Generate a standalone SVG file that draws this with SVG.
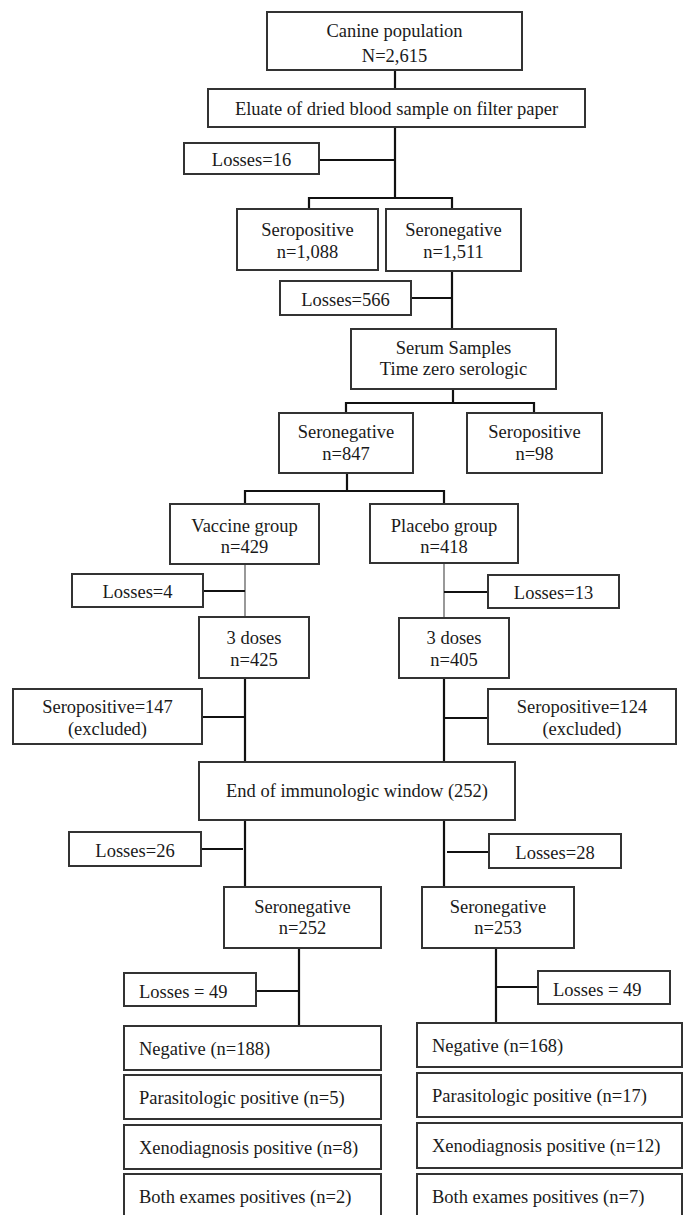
<svg xmlns="http://www.w3.org/2000/svg" width="688" height="1215" viewBox="0 0 688 1215">
<style>
.b{fill:#fff;stroke:#333;stroke-width:2}
.t{font-family:"Liberation Serif","Times New Roman",serif;font-size:18.5px;fill:#1a1a1a;text-anchor:middle}
.l{text-anchor:start}
.c{stroke:#111;stroke-width:2.2;fill:none}
.th{stroke:#555;stroke-width:1.2;fill:none}
</style>
<rect width="688" height="1215" fill="#fff"/>
<g id="connectors">
<path class="c" d="M395,70V89M395,127V198M319,160H395M309,209V198H452V209M452,271V329M411,298H452M453,389V403M346,413V403H534V413M347,473V491M245,504V491H444V504"/>
<path class="th" d="M245,564V617M444,563V618"/>
<path class="c" d="M203,591H245M444,592H488M245,678V762M444,678V762M202,717H245M444,718H488M245,820V887M444,820V887M201,849H243M447,852H489M299,948V1026M256,991H299M496,948V1023M496,987H538"/>
</g>
<g id="canine"><rect class="b" x="267" y="12" width="255" height="58"/><text class="t" x="394.5" y="37">Canine population</text><text class="t" x="394.5" y="62">N=2,615</text></g>
<g id="eluate"><rect class="b" x="208" y="89" width="377" height="38"/><text class="t" x="396.5" y="115">Eluate of dried blood sample on filter paper</text></g>
<g id="losses16"><rect class="b" x="184" y="143" width="135" height="31"/><text class="t" x="251.5" y="166">Losses=16</text></g>
<g id="seropos1088"><rect class="b" x="237" y="209" width="141" height="61"/><text class="t" x="307.5" y="236">Seropositive</text><text class="t" x="307.5" y="258">n=1,088</text></g>
<g id="seroneg1511"><rect class="b" x="386" y="209" width="135" height="62"/><text class="t" x="453.5" y="236">Seronegative</text><text class="t" x="453.5" y="258">n=1,511</text></g>
<g id="losses566"><rect class="b" x="280" y="281" width="131" height="34"/><text class="t" x="345.5" y="306">Losses=566</text></g>
<g id="serum"><rect class="b" x="351" y="329" width="205" height="60"/><text class="t" x="453.5" y="354">Serum Samples</text><text class="t" x="453.5" y="375">Time zero serologic</text></g>
<g id="seroneg847"><rect class="b" x="279" y="413" width="134" height="60"/><text class="t" x="346" y="438">Seronegative</text><text class="t" x="346" y="460">n=847</text></g>
<g id="seropos98"><rect class="b" x="467" y="413" width="135" height="60"/><text class="t" x="534.5" y="438">Seropositive</text><text class="t" x="534.5" y="460">n=98</text></g>
<g id="vaccine"><rect class="b" x="170" y="504" width="149" height="60"/><text class="t" x="244.5" y="532">Vaccine group</text><text class="t" x="244.5" y="553">n=429</text></g>
<g id="placebo"><rect class="b" x="370" y="504" width="148" height="59"/><text class="t" x="444" y="532">Placebo group</text><text class="t" x="444" y="553">n=418</text></g>
<g id="losses4"><rect class="b" x="72" y="574" width="131" height="33"/><text class="t" x="137.5" y="598">Losses=4</text></g>
<g id="losses13"><rect class="b" x="488" y="575" width="131" height="33"/><text class="t" x="553.5" y="599">Losses=13</text></g>
<g id="doses425"><rect class="b" x="199" y="617" width="110" height="61"/><text class="t" x="254" y="644">3 doses</text><text class="t" x="254" y="666">n=425</text></g>
<g id="doses405"><rect class="b" x="399" y="618" width="110" height="60"/><text class="t" x="454" y="644">3 doses</text><text class="t" x="454" y="666">n=405</text></g>
<g id="seropos147"><rect class="b" x="13" y="689" width="189" height="55"/><text class="t" x="107.5" y="713">Seropositive=147</text><text class="t" x="107.5" y="735">(excluded)</text></g>
<g id="seropos124"><rect class="b" x="488" y="689" width="188" height="55"/><text class="t" x="582" y="713">Seropositive=124</text><text class="t" x="582" y="735">(excluded)</text></g>
<g id="endwindow"><rect class="b" x="199" y="762" width="316" height="58"/><text class="t" x="357" y="797">End of immunologic window (252)</text></g>
<g id="losses26"><rect class="b" x="69" y="832" width="132" height="34"/><text class="t" x="135" y="857">Losses=26</text></g>
<g id="losses28"><rect class="b" x="489" y="834" width="132" height="34"/><text class="t" x="555" y="859">Losses=28</text></g>
<g id="seroneg252"><rect class="b" x="224" y="887" width="157" height="61"/><text class="t" x="302.5" y="913">Seronegative</text><text class="t" x="302.5" y="934">n=252</text></g>
<g id="seroneg253"><rect class="b" x="422" y="887" width="152" height="61"/><text class="t" x="498" y="913">Seronegative</text><text class="t" x="498" y="934">n=253</text></g>
<g id="losses49L"><rect class="b" x="124" y="973" width="132" height="33"/><text class="t l" x="139" y="998">Losses = 49</text></g>
<g id="losses49R"><rect class="b" x="538" y="971" width="132" height="33"/><text class="t l" x="553" y="996">Losses = 49</text></g>
<g id="negL"><rect class="b" x="124" y="1026" width="257" height="44"/><text class="t l" x="139" y="1055">Negative (n=188)</text></g>
<g id="paraL"><rect class="b" x="124" y="1075" width="257" height="44"/><text class="t l" x="139" y="1104">Parasitologic positive (n=5)</text></g>
<g id="xenoL"><rect class="b" x="124" y="1125" width="257" height="44"/><text class="t l" x="139" y="1154">Xenodiagnosis positive (n=8)</text></g>
<g id="bothL"><rect class="b" x="124" y="1174" width="257" height="56"/><text class="t l" x="139" y="1203">Both exames positives (n=2)</text></g>
<g id="negR"><rect class="b" x="417" y="1023" width="265" height="44"/><text class="t l" x="432" y="1052">Negative (n=168)</text></g>
<g id="paraR"><rect class="b" x="417" y="1073" width="265" height="44"/><text class="t l" x="432" y="1102">Parasitologic positive (n=17)</text></g>
<g id="xenoR"><rect class="b" x="417" y="1123" width="265" height="45"/><text class="t l" x="432" y="1152">Xenodiagnosis positive (n=12)</text></g>
<g id="bothR"><rect class="b" x="417" y="1174" width="265" height="56"/><text class="t l" x="432" y="1203">Both exames positives (n=7)</text></g>
</svg>
